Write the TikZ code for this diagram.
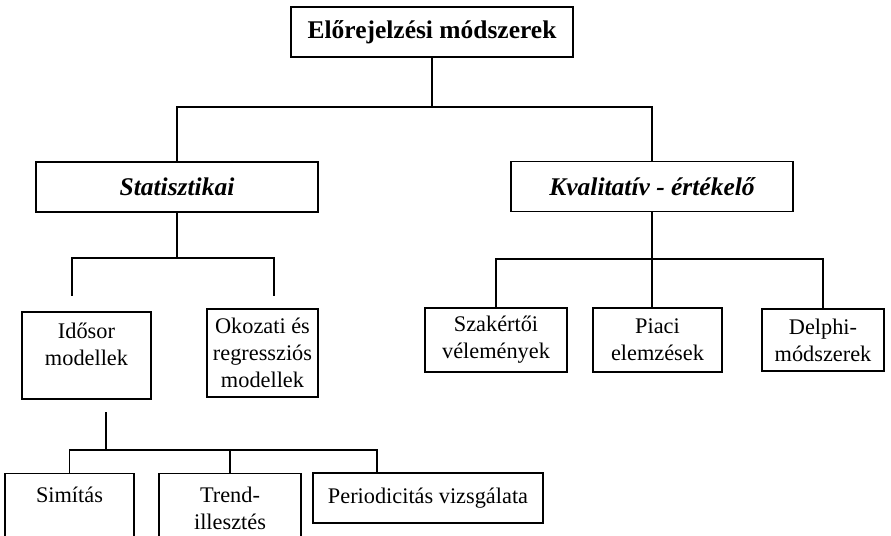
\documentclass[tikz,border=0pt]{standalone}
\usepackage{fontspec}
\setmainfont{Liberation Serif}
\newcommand\bodysize{\fontsize{12.7}{15.3}\selectfont}
\newcommand\headsize{\fontsize{14.5}{17}\selectfont}
\begin{document}
\begin{tikzpicture}[x=0.02cm,y=-0.02cm,line width=0.8pt,
    box/.style={draw,align=center,font=\bodysize},
    headbox/.style={draw,minimum width=5.64cm,minimum height=1cm,font=\headsize\bfseries},
    leafbox/.style={box,anchor=north,text depth=2cm,inner ysep=7.4pt}]
    \useasboundingbox (0,0) rectangle (891,536);
    \clip (0,0) rectangle (891,536);
    % levels
    \node[headbox] (top) at (432,32) {Előrejelzési módszerek};
    \node[headbox,font=\headsize\bfseries\itshape] (stat) at (177,187) {Statisztikai};
    \node[headbox,font=\headsize\bfseries\itshape] (kval) at (652,186.5) {Kvalitatív - értékelő};
    \node[box,minimum width=2.58cm,minimum height=1.74cm,text depth=13pt] (idosor) at (86.5,355.5) {Idősor\\modellek};
    \node[box,minimum width=2.22cm,minimum height=1.76cm] (okozat) at (262.5,353) {Okozati és\\regressziós\\modellek};
    \node[box,minimum width=2.84cm,minimum height=1.28cm] (szak) at (496,340) {Szakértői\\vélemények};
    \node[box,minimum width=2.58cm,minimum height=1.28cm] (piaci) at (657.5,340) {Piaci\\elemzések};
    \node[box,minimum width=2.44cm,minimum height=1.24cm] (delphi) at (823,340) {Delphi-\\módszerek};
    \node[leafbox,minimum width=2.58cm] (simit) at (69.5,473) {Simítás};
    \node[leafbox,minimum width=2.84cm] (trend) at (230,473) {Trend-\\illesztés};
    \node[box,minimum width=4.6cm,minimum height=1cm] (period) at (428,498) {Periodicitás vizsgálata};
    % bus lines and loose ends
    \coordinate (busA) at (0,107);
    \coordinate (busB) at (0,258);
    \coordinate (busC) at (0,259);
    \coordinate (busD) at (0,450);
    \coordinate (legI) at (72,296);
    \coordinate (legO) at (274,296);
    \coordinate (legT) at (106,412);
    \coordinate (legP) at (377,473);
    \draw (top.south) -- (top.south |- busA);
    \draw (stat.north) |- (kval.north |- busA) -- (kval.north);
    \draw (stat.south) -- (stat.south |- busB);
    \draw (legI) |- (legO |- busB) -- (legO);
    \draw (kval.south) -- (kval.south |- piaci.north);
    \draw (szak.north) |- (delphi.north |- busC) -- (delphi.north);
    \draw (legT) -- (legT |- busD);
    \draw (simit.north) |- (legP |- busD) -- (legP);
    \draw (trend.north) -- (trend.north |- busD);
\end{tikzpicture}
\end{document}
